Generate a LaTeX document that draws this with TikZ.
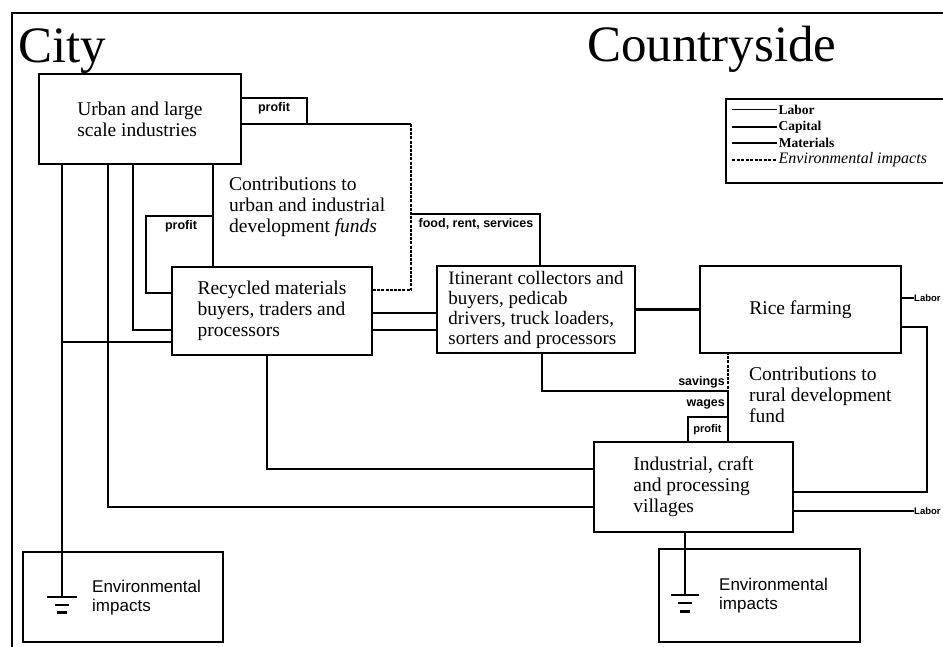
\documentclass[tikz,border=0pt]{standalone}
\usepackage{fontspec}
\setmainfont{Liberation Serif}
\newfontfamily\sansf{Liberation Sans}
\usetikzlibrary{calc}
\begin{document}
\begin{tikzpicture}[x=1pt,y=-1pt,
  box/.style={draw, line width=2.2pt, fill=white, rectangle, inner sep=2pt},
  conn/.style={line width=2.2pt},
  fund/.style={line width=1.8pt, dash pattern=on 3pt off 1.2pt},
  boxtext/.style={font=\fontsize{19.5}{21}\selectfont, align=left},
  lbl/.style={font=\sansf\bfseries\fontsize{12.5}{13}\selectfont, inner sep=0pt},
  envtext/.style={font=\sansf\fontsize{17}{19}\selectfont, align=left, inner sep=0pt},
  titletext/.style={font=\fontsize{51}{51}\selectfont, inner sep=0pt},
  legtext/.style={font=\bfseries\fontsize{13.5}{13.5}\selectfont, inner sep=1pt, anchor=west},
  gndbar/.style={line width=1.8pt},
]
\useasboundingbox (0,0) rectangle (943,647);
% outer frame
\coordinate (frtl) at (12,13);
\coordinate (frtr) at (943,13);
\coordinate (frbl) at (12,647);
\draw[line width=2.4pt] (frtr) -- (frtl) -- (frbl);

% titles
\node[titletext, anchor=base west] (city) at (18,63) {City};
\node[titletext, anchor=base west] (country) at (587,62) {Countryside};

% contribution boxes (behind)
\node[minimum width=198pt, minimum height=166pt, inner sep=0pt] (cu) at (312,207) {};
\draw[fund] (cu.north east) -- (cu.south east) -- (cu.south west);
\draw[conn] (cu.north west) -- (cu.north east);
\node[minimum width=199pt, minimum height=165pt, inner sep=0pt] (cr) at (827.5,409.5) {};
\draw[conn] (cr.north west) -- (cr.north east) -- (cr.south east) -- (cr.south west);
\draw[fund] (cr.north west) -- (cr.south west);

% main boxes
\node[box, minimum width=202pt, minimum height=90pt, boxtext] (urban) at (140,119) {Urban and large\\scale industries};
\node[box, minimum width=200pt, minimum height=88pt, boxtext] (recyc) at (272,311) {Recycled materials\\buyers, traders and\\processors};
\node[box, minimum width=198pt, minimum height=87pt, boxtext, font=\fontsize{19}{20}\selectfont] (itin) at (536,309.5) {Itinerant collectors and\\buyers, pedicab\\drivers, truck loaders,\\sorters and processors};
\node[box, minimum width=201pt, minimum height=87pt, boxtext] (rice) at (800.5,309.5) {Rice farming};
\node[box, minimum width=199pt, minimum height=90pt, boxtext] (indus) at (693.5,487) {Industrial, craft\\and processing\\villages};
\node[box, minimum width=200pt, minimum height=90pt] (env1) at (123,597) {};
\node[box, minimum width=201pt, minimum height=93pt] (env2) at (759.5,595.5) {};

% texts of the funds and impact boxes
\node[boxtext, anchor=west, inner sep=0pt] (cut) at (229,207) {Contributions to\\urban and industrial\\development \textit{funds}};
\node[boxtext, anchor=west, inner sep=0pt] (crt) at (749,395) {Contributions to\\rural development\\fund};
\node[envtext, anchor=west] (env1t) at (92,598) {Environmental\\impacts};
\node[envtext, anchor=west] (env2t) at (719,596) {Environmental\\impacts};

% legend
\node[draw, line width=2pt, minimum width=240pt, minimum height=84pt, anchor=north west, inner sep=0pt] (legend) at (725,98) {};
\coordinate (lg1) at (732,110);
\coordinate (lg2) at (732,127);
\coordinate (lg3) at (732,143);
\coordinate (lg4) at (732,160);
\draw[line width=1pt] (lg1) -- ++(45,0) node[legtext] (lt1) {Labor};
\draw[line width=1.4pt] (lg2) -- ++(45,0) node[legtext] (lt2) {Capital};
\draw[line width=1.8pt] (lg3) -- ++(45,0) node[legtext] (lt3) {Materials};
\draw[line width=1.4pt, dash pattern=on 3pt off 1.5pt] (lg4) -- ++(45,0) node[legtext, font=\itshape\fontsize{16}{16}\selectfont] (lt4) {Environmental impacts};

% bend points
\coordinate (g1) at (62,597);
\coordinate (j1) at (62,342);
\coordinate (b2) at (108,507);
\coordinate (b3) at (133,330);
\coordinate (p1) at (307,98);
\coordinate (p2a) at (146,216);
\coordinate (p2b) at (146,293);
\coordinate (ri1) at (400,313);
\coordinate (ri2) at (400,330);
\coordinate (f1) at (540,214);
\coordinate (s1) at (542,391);
\coordinate (b4) at (267,469);
\coordinate (p3) at (688,417);
\coordinate (g2) at (685,595);
\coordinate (L1) at (914,298);
\coordinate (L2) at (914,511);

% connectors
\draw[conn] (urban.south -| g1) -- (g1);
\draw[conn] (j1) -- (recyc.west |- j1);
\draw[conn] (urban.south -| b2) |- (indus.west |- b2);
\draw[conn] (urban.south -| b3) |- (recyc.west |- b3);
\draw[conn] (urban.south -| cu.west) -- (recyc.north -| cu.west);
\draw[conn] (urban.east |- p1) -| (cu.north -| p1);
\draw[conn] (cu.west |- p2a) -| (p2b) -- (recyc.west |- p2b);
\draw[conn] (recyc.east |- ri1) -- (itin.west |- ri1);
\draw[conn] (recyc.east |- ri2) -- (itin.west |- ri2);
\draw[conn] (cu.east |- f1) -| (itin.north -| f1);
\draw[conn] (itin.east) -- (rice.west |- itin.east);
\draw[conn] (itin.south -| s1) |- (cr.west |- s1);
\draw[conn] (cr.west |- s1) -- (indus.north -| cr.west);
\draw[conn] (recyc.south -| b4) |- (indus.west |- b4);
\draw[conn] (indus.north -| p3) |- (cr.west |- p3);
\draw[conn] (indus.south -| g2) -- (g2);
\draw[conn] (rice.east |- L1) -- (L1);
\draw[conn] (indus.east |- L2) -- (L2);

% ground symbols
\draw[gndbar] ($(g1)+(-15,0)$) -- ($(g1)+(15,0)$);
\draw[gndbar] ($(g1)+(-7,8)$) -- ($(g1)+(7,8)$);
\draw[line width=3pt] ($(g1)+(-5,15)$) -- ($(g1)+(5,15)$);
\draw[gndbar] ($(g2)+(-14,0)$) -- ($(g2)+(14,0)$);
\draw[gndbar] ($(g2)+(-7,8)$) -- ($(g2)+(7,8)$);
\draw[line width=3pt] ($(g2)+(-5,16)$) -- ($(g2)+(5,16)$);

% small labels
\node[lbl] (pf1) at (274,108) {profit};
\node[lbl] (pf2) at (181,226) {profit};
\node[lbl] (food) at (476,224) {food, rent, services};
\node[lbl, anchor=east] (sav) at (725,382) {savings};
\node[lbl, anchor=east] (wag) at (725,404) {wages};
\node[lbl, font=\sansf\bfseries\fontsize{11}{11}\selectfont] (pf3) at (707.5,430) {profit};
\node[lbl, anchor=west, font=\sansf\bfseries\fontsize{9.5}{10}\selectfont] (lab1) at (L1) {Labor};
\node[lbl, anchor=west, font=\sansf\bfseries\fontsize{9.5}{10}\selectfont] (lab2) at (L2) {Labor};
\end{tikzpicture}
\end{document}
